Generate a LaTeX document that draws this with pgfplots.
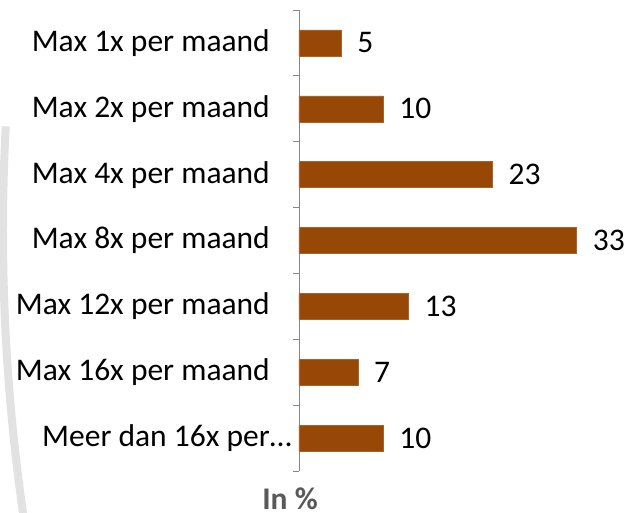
\documentclass[border=0pt]{standalone}
\usepackage{pgfplots}
\pgfplotsset{compat=1.18}
\usepackage{fontspec}
\setmainfont{Carlito}
\definecolor{barbrown}{RGB}{151,72,6}
\definecolor{axisgray}{RGB}{134,134,134}
\definecolor{titlegray}{RGB}{89,89,89}
\definecolor{ringgray}{RGB}{226,226,226}

\begin{document}
\begin{tikzpicture}
% faint watermark ring on the left (axis box south west sits at the origin)
\draw[ringgray, line width=8pt] (-296pt,240pt)
    arc[start angle=180, end angle=189, radius=2000pt];
\draw[ringgray, line width=8pt] (-296pt,240pt)
    arc[start angle=180, end angle=177, radius=2000pt];
\begin{axis}[
    name=ax,
    at={(0,0)}, anchor=south west,
    scale only axis,
    width=286pt, height=461pt,
    xbar, bar width=26pt,
    xmin=0, xmax=34,
    ymin=-0.5, ymax=6.5,
    y dir=reverse,
    hide x axis,
    axis y line*=left,
    axis line style={axisgray, line width=0.9pt},
    ytick={0,...,6},
    yticklabels={Max 1x per maand, Max 2x per maand, Max 4x per maand,
                 Max 8x per maand, Max 12x per maand, Max 16x per maand,
                 Meer dan 16x per\rlap{…}},
    minor ytick={-0.5,0.5,...,6.5},
    tick align=outside,
    major tick length=0pt,
    minor tick length=6pt,
    minor tick style={axisgray, line width=0.9pt},
    yticklabel style={font=\fontsize{31.5}{38}\selectfont, anchor=east,
                      inner sep=0pt, xshift=-29pt},
    /pgf/number format/assume math mode=true,
    nodes near coords,
    nodes near coords style={font=\fontsize{31.5}{38}\selectfont, anchor=west,
                             inner sep=0pt, xshift=16pt},
    clip=false,
]
\addplot[fill=barbrown, draw=barbrown!85!white] coordinates {
    (5,0) (10,1) (23,2) (33,3) (13,4) (7,5) (10,6)
};
\end{axis}
\node[anchor=base, font=\fontsize{31.5}{38}\selectfont\bfseries, text=titlegray, inner sep=0pt]
    at ([shift={(-9pt,-38pt)}]ax.south west) {In \%};
\pgfresetboundingbox
\path[use as bounding box] ([shift={(-299pt,-41pt)}]ax.south west) rectangle ++(629pt,512pt);
\end{tikzpicture}
\end{document}
